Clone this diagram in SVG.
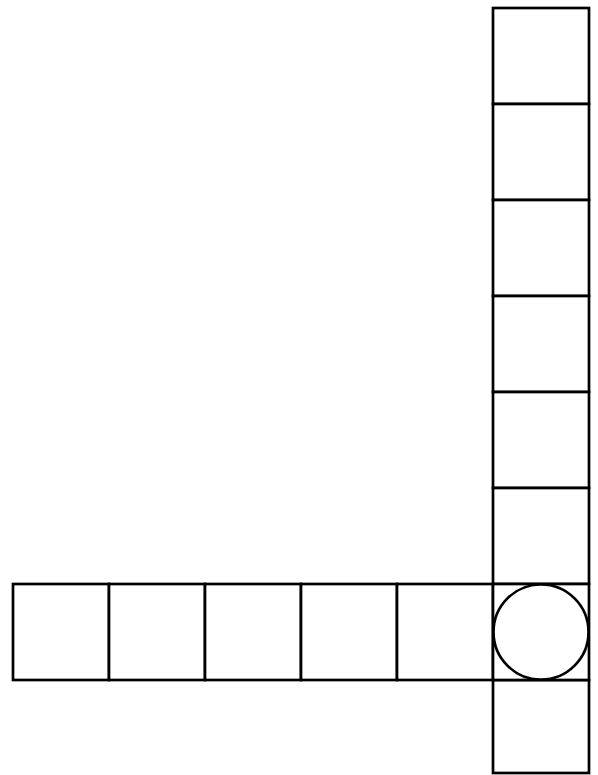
<svg xmlns="http://www.w3.org/2000/svg" width="598" height="775" viewBox="0 0 598 775">
<style>
.c{fill:#fff;stroke:#000;stroke-width:2.7}
</style>
<rect width="598" height="775" fill="#fff"/>
<g id="col">
<rect id="v1" class="c" x="493" y="8" width="96" height="96"/>
<rect id="v2" class="c" x="493" y="104" width="96" height="96"/>
<rect id="v3" class="c" x="493" y="200" width="96" height="96"/>
<rect id="v4" class="c" x="493" y="296" width="96" height="96"/>
<rect id="v5" class="c" x="493" y="392" width="96" height="96"/>
<rect id="v6" class="c" x="493" y="488" width="96" height="96"/>
<rect id="v8" class="c" x="493" y="680" width="96" height="93"/>
</g>
<g id="row">
<rect id="h1" class="c" x="13" y="584" width="96" height="96"/>
<rect id="h2" class="c" x="109" y="584" width="96" height="96"/>
<rect id="h3" class="c" x="205" y="584" width="96" height="96"/>
<rect id="h4" class="c" x="301" y="584" width="96" height="96"/>
<rect id="h5" class="c" x="397" y="584" width="96" height="96"/>
</g>
<g id="center">
<rect class="c" x="493" y="584" width="96" height="96"/>
<circle class="c" cx="541" cy="632" r="47.5"/>
</g>
</svg>
